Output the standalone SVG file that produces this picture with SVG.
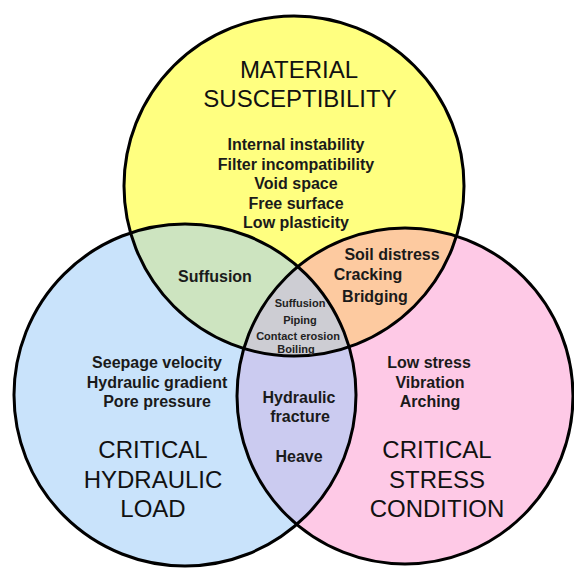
<svg xmlns="http://www.w3.org/2000/svg" width="574" height="568" viewBox="0 0 574 568">
<style>
.outline{fill:none;stroke:#000;stroke-width:3}
.title{font-family:"Liberation Sans",Arial,sans-serif;font-size:24px;fill:#111;text-anchor:middle}
.item{font-family:"Liberation Sans",Arial,sans-serif;font-size:16px;font-weight:bold;fill:#1a1a1a;text-anchor:middle}
.small{font-family:"Liberation Sans",Arial,sans-serif;font-size:11px;font-weight:bold;fill:#222;text-anchor:middle}
</style>
<defs>
<clipPath id="cTop"><circle cx="294" cy="186" r="170"/></clipPath>
<clipPath id="cLeft"><circle cx="185" cy="395" r="171"/></clipPath>
<clipPath id="cRight"><circle cx="405" cy="396" r="168"/></clipPath>
</defs>
<rect width="574" height="568" fill="#fff"/>
<g id="regions">
<circle cx="185" cy="395" r="171" fill="#c9e3fb"/>
<circle cx="405" cy="396" r="168" fill="#fec9e6"/>
<circle cx="294" cy="186" r="170" fill="#ffff80"/>
<circle cx="185" cy="395" r="171" fill="#cde4c0" clip-path="url(#cTop)"/>
<circle cx="405" cy="396" r="168" fill="#fdcaa0" clip-path="url(#cTop)"/>
<circle cx="405" cy="396" r="168" fill="#cbcbf0" clip-path="url(#cLeft)"/>
<g clip-path="url(#cTop)"><circle cx="405" cy="396" r="168" fill="#cdcdd3" clip-path="url(#cLeft)"/></g>
</g>
<g id="outlines">
<circle class="outline" cx="294" cy="186" r="170"/>
<circle class="outline" cx="185" cy="395" r="171"/>
<circle class="outline" cx="405" cy="396" r="168"/>
</g>
<g id="material">
<text class="title" x="299" y="78">MATERIAL</text>
<text class="title" x="300" y="107">SUSCEPTIBILITY</text>
<text class="item" x="296" y="150">Internal instability</text>
<text class="item" x="296" y="169.5">Filter incompatibility</text>
<text class="item" x="296" y="189">Void space</text>
<text class="item" x="296" y="208.5">Free surface</text>
<text class="item" x="296" y="228">Low plasticity</text>
</g>
<g id="green-overlap"><text class="item" x="215" y="282">Suffusion</text></g>
<g id="orange-overlap">
<text class="item" x="392" y="260">Soil distress</text>
<text class="item" x="368" y="280">Cracking</text>
<text class="item" x="375" y="302">Bridging</text>
</g>
<g id="center-overlap">
<text class="small" x="300" y="307">Suffusion</text>
<text class="small" x="300" y="323.5">Piping</text>
<text class="small" x="298" y="340">Contact erosion</text>
<text class="small" x="296" y="352.5">Boiling</text>
</g>
<g id="hydraulic">
<text class="item" x="157" y="368">Seepage velocity</text>
<text class="item" x="157" y="388">Hydraulic gradient</text>
<text class="item" x="157" y="407">Pore pressure</text>
<text class="title" x="153" y="458">CRITICAL</text>
<text class="title" x="153" y="488">HYDRAULIC</text>
<text class="title" x="153" y="517">LOAD</text>
</g>
<g id="purple-overlap">
<text class="item" x="299" y="403">Hydraulic</text>
<text class="item" x="300" y="422">fracture</text>
<text class="item" x="299" y="462">Heave</text>
</g>
<g id="stress">
<text class="item" x="429" y="368">Low stress</text>
<text class="item" x="430" y="388">Vibration</text>
<text class="item" x="430" y="407">Arching</text>
<text class="title" x="437" y="458">CRITICAL</text>
<text class="title" x="437" y="488">STRESS</text>
<text class="title" x="437" y="517">CONDITION</text>
</g>
</svg>
